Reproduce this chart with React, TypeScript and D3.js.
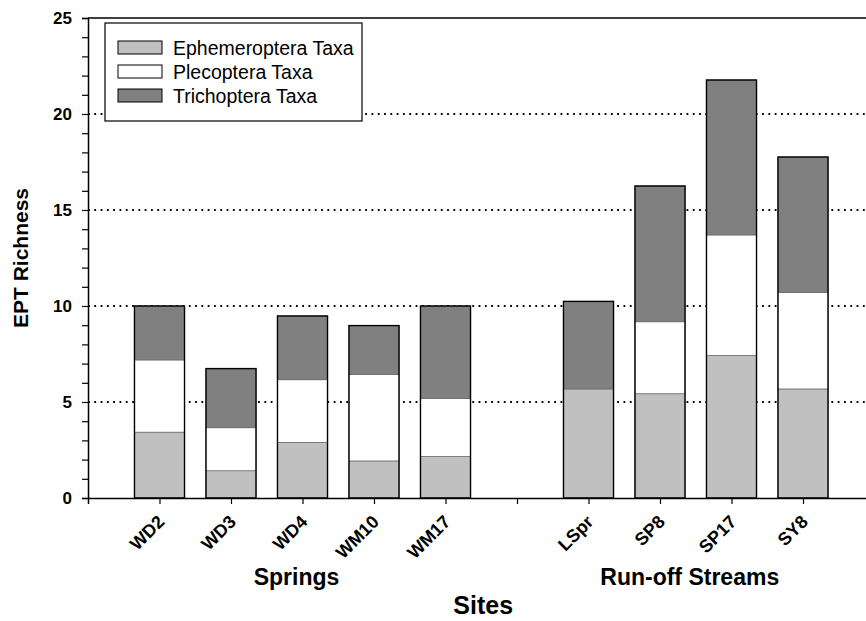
import { useEffect, useRef } from 'react'
import * as d3 from 'd3'

// site names, in order, with an empty slot between the two groups
const sites = ['WD2', 'WD3', 'WD4', 'WM10', 'WM17', '', 'LSpr', 'SP8', 'SP17', 'SY8']
const groups = ['Springs', 'Run-off Streams']
const seriesNames = ['Ephemeroptera Taxa', 'Plecoptera Taxa', 'Trichoptera Taxa']

// stacked values per site (gap slot has no bar)
const ephemeroptera = [3.43, 1.42, 2.9, 1.93, 2.17, null, 5.68, 5.43, 7.43, 5.68]
const plecoptera = [3.76, 2.24, 3.26, 4.51, 3.02, null, 0, 3.75, 6.27, 5.03]
const trichoptera = [2.81, 3.08, 3.32, 2.54, 4.81, null, 4.56, 7.07, 8.07, 7.05]

const yTicks = [0, 5, 10, 15, 20, 25]
const gridValues = [5, 10, 15, 20]

const colors = ['#c0c0c0', '#ffffff', '#808080']

const W = 866
const H = 621
const marginLeft = 88
const marginTop = 18
const marginBottom = 123
const step = 71.5

function App() {
	const ref = useRef<SVGSVGElement>(null)

	useEffect(() => {
		const svg = d3.select(ref.current)
		svg.selectAll('*').remove()

		const font = 'Liberation Sans, Arial, sans-serif'

		// x is a linear position, slots 1..10, frame runs 0..11
		const x = d3.scaleLinear().domain([0, 11]).range([marginLeft, marginLeft + 11 * step])
		const y = d3.scaleLinear().domain([0, 25]).range([H - marginBottom, marginTop])
		const barW = step * 0.7

		const series = [ephemeroptera, plecoptera, trichoptera]

		// dotted grid behind bars
		svg.append('g')
			.selectAll('line')
			.data(gridValues)
			.join('line')
			.attr('x1', x(0))
			.attr('x2', x(11))
			.attr('y1', d => y(d))
			.attr('y2', d => y(d))
			.attr('stroke', '#000')
			.attr('stroke-width', 1.8)
			.attr('stroke-dasharray', '1.8 4.5')

		// stacked bars
		const bars = svg.append('g')
		sites.forEach((s, i) => {
			if (!s) return
			let base = 0
			series.forEach((ser, k) => {
				const v = ser[i] as number
				if (v > 0) {
					bars.append('rect')
						.attr('x', x(i + 1) - barW / 2)
						.attr('width', barW)
						.attr('y', y(base + v))
						.attr('height', y(base) - y(base + v))
						.attr('fill', colors[k])
						.attr('stroke', '#666')
						.attr('stroke-width', 0.7)
				}
				base += v
			})
			// outline round the whole stack
			bars.append('rect')
				.attr('x', x(i + 1) - barW / 2)
				.attr('width', barW)
				.attr('y', y(base))
				.attr('height', y(0) - y(base))
				.attr('fill', 'none')
				.attr('stroke', '#000')
				.attr('stroke-width', 1.4)
		})

		// frame: top line and the (off-screen) right side
		svg.append('path')
			.attr('d', `M${x(0)},${y(25)}H${x(11)}V${y(0)}`)
			.attr('fill', 'none')
			.attr('stroke', '#000')
			.attr('stroke-width', 1.5)

		// y axis
		const yAxis = svg.append('g')
			.attr('transform', `translate(${x(0)},0)`)
			.call(d3.axisLeft(y).tickValues(d3.range(0, 26)).tickSize(6).tickFormat(() => ''))
		yAxis.select('.domain').attr('stroke-width', 1.5)
		yAxis.selectAll('.tick line').attr('stroke-width', 1.2)
		svg.append('g')
			.selectAll('text')
			.data(yTicks)
			.join('text')
			.attr('x', 72)
			.attr('y', d => y(d))
			.attr('dy', '0.36em')
			.attr('text-anchor', 'end')
			.attr('font-family', font)
			.attr('font-weight', 'bold')
			.attr('font-size', '17px')
			.text(d => d)

		// x axis
		const xAxis = svg.append('g')
			.attr('transform', `translate(0,${y(0)})`)
			.call(d3.axisBottom(x).tickValues(d3.range(1, 11)).tickSize(6).tickFormat(() => ''))
		xAxis.select('.domain').attr('stroke-width', 1.5)
		xAxis.selectAll('.tick line').attr('stroke-width', 1.2)
		svg.append('g')
			.selectAll('text')
			.data(sites)
			.join('text')
			.attr('transform', (d, i) => `translate(${x(i + 1) + 6},${y(0) + 25}) rotate(-45)`)
			.attr('text-anchor', 'end')
			.attr('font-family', font)
			.attr('font-weight', 'bold')
			.attr('font-size', '18px')
			.text(d => d)

		// group labels under the ticks
		const groupCenters = [x(3), x(8.5)]
		svg.append('g')
			.selectAll('text')
			.data(groups)
			.join('text')
			.attr('x', (d, i) => groupCenters[i] - 6)
			.attr('y', 585)
			.attr('text-anchor', 'middle')
			.attr('font-family', font)
			.attr('font-weight', 'bold')
			.attr('font-size', '23px')
			.text(d => d)

		svg.append('text')
			.attr('x', (x(0) + x(11)) / 2 + 2)
			.attr('y', 614)
			.attr('text-anchor', 'middle')
			.attr('font-family', font)
			.attr('font-weight', 'bold')
			.attr('font-size', '25px')
			.text('Sites')

		svg.append('text')
			.attr('transform', `translate(28,${(y(0) + y(25)) / 2}) rotate(-90)`)
			.attr('text-anchor', 'middle')
			.attr('font-family', font)
			.attr('font-weight', 'bold')
			.attr('font-size', '21px')
			.text('EPT Richness')

		// legend
		const legend = svg.append('g').attr('transform', 'translate(105,23)')
		legend.append('rect')
			.attr('width', 257)
			.attr('height', 98)
			.attr('fill', '#fff')
			.attr('stroke', '#000')
			.attr('stroke-width', 1.2)
		seriesNames.forEach((name, k) => {
			legend.append('rect')
				.attr('x', 13)
				.attr('y', 18 + k * 24)
				.attr('width', 44)
				.attr('height', 13)
				.attr('fill', colors[k])
				.attr('stroke', '#000')
				.attr('stroke-width', 1)
			legend.append('text')
				.attr('x', 68)
				.attr('y', 24.5 + k * 24)
				.attr('dy', '0.36em')
				.attr('font-family', font)
				.attr('font-size', '19.5px')
				.text(name)
		})
	}, [])

	return (
		<svg ref={ref} width={W} height={H} style={{ position: 'absolute', left: 0, top: 0, background: '#fff' }} />
	)
}

export default App
